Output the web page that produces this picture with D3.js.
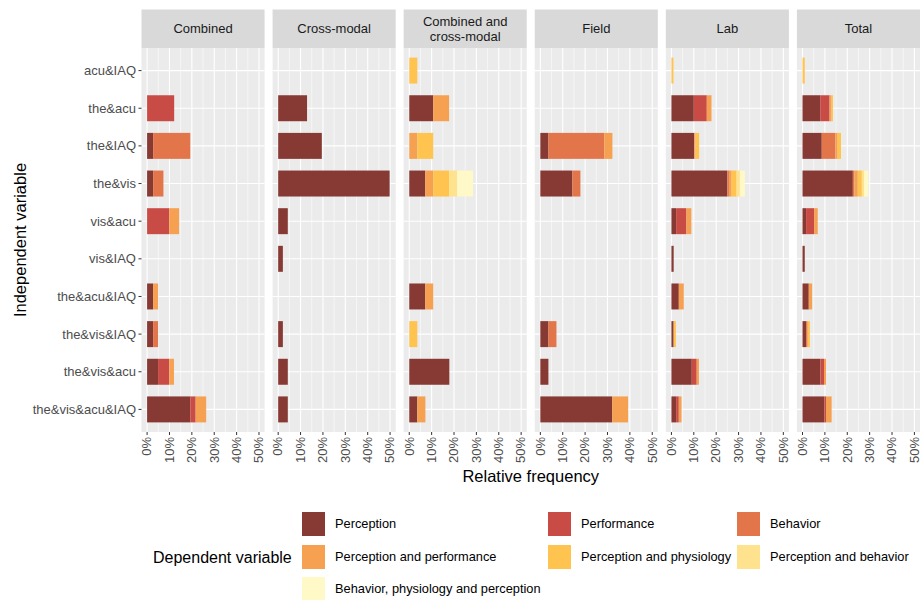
<!DOCTYPE html>
<html>
<head>
<meta charset="utf-8">
<script src="https://cdn.jsdelivr.net/npm/d3@7"></script>
<style>
body { margin: 0; background: #fff; }
text { font-family: "Liberation Sans", Arial, sans-serif; }
</style>
</head>
<body>
<script>
//independent variables, top to bottom
var categories = ["acu&IAQ", "the&acu", "the&IAQ", "the&vis", "vis&acu", "vis&IAQ",
    "the&acu&IAQ", "the&vis&IAQ", "the&vis&acu", "the&vis&acu&IAQ"];

var facets = ["Combined", "Cross-modal", "Combined and cross-modal", "Field", "Lab", "Total"];

//dependent variables (stack order)
var dependents = ["Perception", "Performance", "Behavior", "Perception and performance",
    "Perception and physiology", "Perception and behavior", "Behavior, physiology and perception"];

var xTicks = [0, 0.1, 0.2, 0.3, 0.4, 0.5];

//relative frequency in %, one row per category, columns follow dependents
var combined = [
    [0, 0, 0, 0, 0, 0, 0],
    [0, 12.1, 0, 0, 0, 0, 0],
    [2.7, 0, 16.6, 0, 0, 0, 0],
    [2.7, 0, 4.6, 0, 0, 0, 0],
    [0, 9.9, 0, 4.4, 0, 0, 0],
    [0, 0, 0, 0, 0, 0, 0],
    [2.7, 0, 0, 2.2, 0, 0, 0],
    [2.7, 0, 2.2, 0, 0, 0, 0],
    [4.9, 5.0, 0, 2.1, 0, 0, 0],
    [19.3, 2.4, 0, 4.7, 0, 0, 0]
];
var crossModal = [
    [0, 0, 0, 0, 0, 0, 0],
    [12.9, 0, 0, 0, 0, 0, 0],
    [19.5, 0, 0, 0, 0, 0, 0],
    [49.8, 0, 0, 0, 0, 0, 0],
    [4.3, 0, 0, 0, 0, 0, 0],
    [2.1, 0, 0, 0, 0, 0, 0],
    [0, 0, 0, 0, 0, 0, 0],
    [2.1, 0, 0, 0, 0, 0, 0],
    [4.3, 0, 0, 0, 0, 0, 0],
    [4.3, 0, 0, 0, 0, 0, 0]
];
var combinedCross = [
    [0, 0, 0, 0, 3.6, 0, 0],
    [10.7, 0, 0, 7.1, 0, 0, 0],
    [0, 0, 0, 3.6, 7.1, 0, 0],
    [7.1, 0, 0, 3.6, 7.1, 3.6, 7.1],
    [0, 0, 0, 0, 0, 0, 0],
    [0, 0, 0, 0, 0, 0, 0],
    [7.1, 0, 0, 3.6, 0, 0, 0],
    [0, 0, 0, 0, 3.6, 0, 0],
    [17.9, 0, 0, 0, 0, 0, 0],
    [3.6, 0, 0, 3.6, 0, 0, 0]
];
var field = [
    [0, 0, 0, 0, 0, 0, 0],
    [0, 0, 0, 0, 0, 0, 0],
    [3.6, 0, 25.0, 3.6, 0, 0, 0],
    [14.3, 0, 3.6, 0, 0, 0, 0],
    [0, 0, 0, 0, 0, 0, 0],
    [0, 0, 0, 0, 0, 0, 0],
    [0, 0, 0, 0, 0, 0, 0],
    [3.6, 0, 3.6, 0, 0, 0, 0],
    [3.6, 0, 0, 0, 0, 0, 0],
    [32.1, 0, 0, 7.1, 0, 0, 0]
];
var lab = [
    [0, 0, 0, 0, 0.9, 0, 0],
    [10.0, 5.8, 0, 2.1, 0, 0, 0],
    [10.2, 0, 0, 0.6, 1.6, 0, 0],
    [25.0, 0, 0.7, 1.2, 2.2, 1.5, 2.2],
    [2.1, 4.6, 0, 2.2, 0, 0, 0],
    [1.0, 0, 0, 0, 0, 0, 0],
    [3.3, 0, 0, 2.2, 0, 0, 0],
    [1.0, 0, 0, 0, 1.0, 0, 0],
    [9.1, 2.2, 0, 1.0, 0, 0, 0],
    [2.1, 1.2, 0, 1.2, 0, 0, 0]
];
var total = [
    [0, 0, 0, 0, 1.0, 0, 0],
    [7.9, 4.2, 0, 0.9, 0.6, 0, 0],
    [8.6, 0, 6.1, 1.0, 1.5, 0, 0],
    [22.5, 0, 0.7, 1.5, 1.8, 1.0, 1.9],
    [1.6, 3.6, 0, 1.6, 0, 0, 0],
    [1.0, 0, 0, 0, 0, 0, 0],
    [2.8, 0, 0, 1.5, 0, 0, 0],
    [1.6, 0, 0.7, 0, 1.0, 0, 0],
    [8.0, 1.6, 0, 0.9, 0, 0, 0],
    [9.8, 0.7, 0, 2.5, 0, 0, 0]
];

var facetData = [combined, crossModal, combinedCross, field, lab, total];

var palette = ["#873a34", "#c84c45", "#e2764a", "#f6a051", "#ffc350", "#ffe28e", "#fff9c8"];

window.onload = drawChart();

function drawChart() {
    var width = 920,
        height = 600;

    var svg = d3.select("body")
        .append("svg")
        .attr("width", width)
        .attr("height", height);

    //panel geometry
    var left = 141.5,
        gap = 8,
        panelW = (width - left - gap * 5) / 6,
        top = 48,
        bottom = 432,
        stripTop = 9.5;

    var x = d3.scaleLinear()
        .domain([-0.025, 0.525])
        .range([0, panelW]);

    var y = d3.scalePoint()
        .domain(categories)
        .range([top, bottom])
        .padding(0.6);

    var barH = y.step() * 0.69;

    var color = d3.scaleOrdinal()
        .domain(dependents)
        .range(palette);

    var stack = d3.stack()
        .keys(d3.range(dependents.length));

    facets.forEach(function(name, i) {
        var g = svg.append("g")
            .attr("transform", "translate(" + (left + i * (panelW + gap)) + ",0)");

        //panel background
        g.append("rect")
            .attr("x", 0).attr("y", top)
            .attr("width", panelW).attr("height", bottom - top)
            .attr("fill", "#ebebeb");

        //minor grid
        g.selectAll(".minor")
            .data(xTicks.slice(0, 5).map(function(d) { return d + 0.05; }))
            .enter().append("line")
            .attr("x1", function(d) { return x(d); })
            .attr("x2", function(d) { return x(d); })
            .attr("y1", top).attr("y2", bottom)
            .attr("stroke", "#fff").attr("stroke-width", 0.55);

        //major grid
        g.selectAll(".major")
            .data(xTicks)
            .enter().append("line")
            .attr("x1", function(d) { return x(d); })
            .attr("x2", function(d) { return x(d); })
            .attr("y1", top).attr("y2", bottom)
            .attr("stroke", "#fff").attr("stroke-width", 1.1);

        g.selectAll(".hgrid")
            .data(categories)
            .enter().append("line")
            .attr("x1", 0).attr("x2", panelW)
            .attr("y1", function(d) { return y(d); })
            .attr("y2", function(d) { return y(d); })
            .attr("stroke", "#fff").attr("stroke-width", 1.1);

        //stacked bars
        var series = stack(facetData[i]);
        series.forEach(function(s, k) {
            g.selectAll(".bar" + k)
                .data(s.map(function(d, j) { return { c: categories[j], v0: d[0], v1: d[1] }; })
                    .filter(function(d) { return d.v1 > d.v0; }))
                .enter().append("rect")
                .attr("x", function(d) { return x(d.v0 / 100); })
                .attr("width", function(d) { return x(d.v1 / 100) - x(d.v0 / 100); })
                .attr("y", function(d) { return y(d.c) - barH / 2; })
                .attr("height", barH)
                .attr("fill", color(dependents[k]));
        });

        //strip
        g.append("rect")
            .attr("x", 0).attr("y", stripTop)
            .attr("width", panelW).attr("height", top - stripTop)
            .attr("fill", "#d9d9d9");

        var lines = name == "Combined and cross-modal" ? ["Combined and", "cross-modal"] : [name];
        var st = g.append("text")
            .attr("x", panelW / 2)
            .attr("text-anchor", "middle")
            .attr("font-size", 13)
            .attr("fill", "#1a1a1a");
        lines.forEach(function(l, j) {
            var cy = (stripTop + top) / 2 + (j - (lines.length - 1) / 2) * 15;
            st.append("tspan")
                .attr("x", panelW / 2)
                .attr("y", cy)
                .attr("dy", "0.35em")
                .text(l);
        });

        //x ticks and labels
        g.selectAll(".xtick")
            .data(xTicks)
            .enter().append("line")
            .attr("x1", function(d) { return x(d); })
            .attr("x2", function(d) { return x(d); })
            .attr("y1", bottom).attr("y2", bottom + 3)
            .attr("stroke", "#333").attr("stroke-width", 1);

        g.selectAll(".xlab")
            .data(xTicks)
            .enter().append("text")
            .attr("transform", function(d) { return "translate(" + x(d) + "," + (bottom + 5) + ") rotate(-90)"; })
            .attr("text-anchor", "end")
            .attr("dy", "0.33em")
            .attr("font-size", 13)
            .attr("fill", "#4d4d4d")
            .text(d3.format(".0%"));
    });

    //y axis
    svg.selectAll(".ytick")
        .data(categories)
        .enter().append("line")
        .attr("x1", left - 3).attr("x2", left)
        .attr("y1", function(d) { return y(d); })
        .attr("y2", function(d) { return y(d); })
        .attr("stroke", "#333");

    svg.selectAll(".ylab")
        .data(categories)
        .enter().append("text")
        .attr("x", left - 5.5)
        .attr("y", function(d) { return y(d); })
        .attr("dy", "0.35em")
        .attr("text-anchor", "end")
        .attr("font-size", 13)
        .attr("fill", "#4d4d4d")
        .text(function(d) { return d; });

    //axis titles
    svg.append("text")
        .attr("x", (left + width) / 2)
        .attr("y", 482)
        .attr("text-anchor", "middle")
        .attr("font-size", 16.5)
        .attr("fill", "#000")
        .text("Relative frequency");

    svg.append("text")
        .attr("transform", "translate(26," + (top + bottom) / 2 + ") rotate(-90)")
        .attr("text-anchor", "middle")
        .attr("font-size", 16.5)
        .attr("fill", "#000")
        .text("Independent variable");

    //legend
    var legend = svg.append("g");
    legend.append("text")
        .attr("x", 153)
        .attr("y", 557)
        .attr("dy", "0.35em")
        .attr("font-size", 16)
        .text("Dependent variable");

    var colX = [302, 548, 737],
        rowY = [524, 557, 589];

    var keys = legend.selectAll(".key")
        .data(dependents)
        .enter().append("g")
        .attr("transform", function(d, i) {
            return "translate(" + colX[i % 3] + "," + rowY[Math.floor(i / 3)] + ")";
        });

    keys.append("rect")
        .attr("x", 0).attr("y", -12)
        .attr("width", 23).attr("height", 24)
        .attr("fill", function(d) { return color(d); });

    keys.append("text")
        .attr("x", 33)
        .attr("dy", "0.35em")
        .attr("font-size", 12.8)
        .attr("fill", "#000")
        .text(function(d) { return d; });
};
</script>
</body>
</html>
